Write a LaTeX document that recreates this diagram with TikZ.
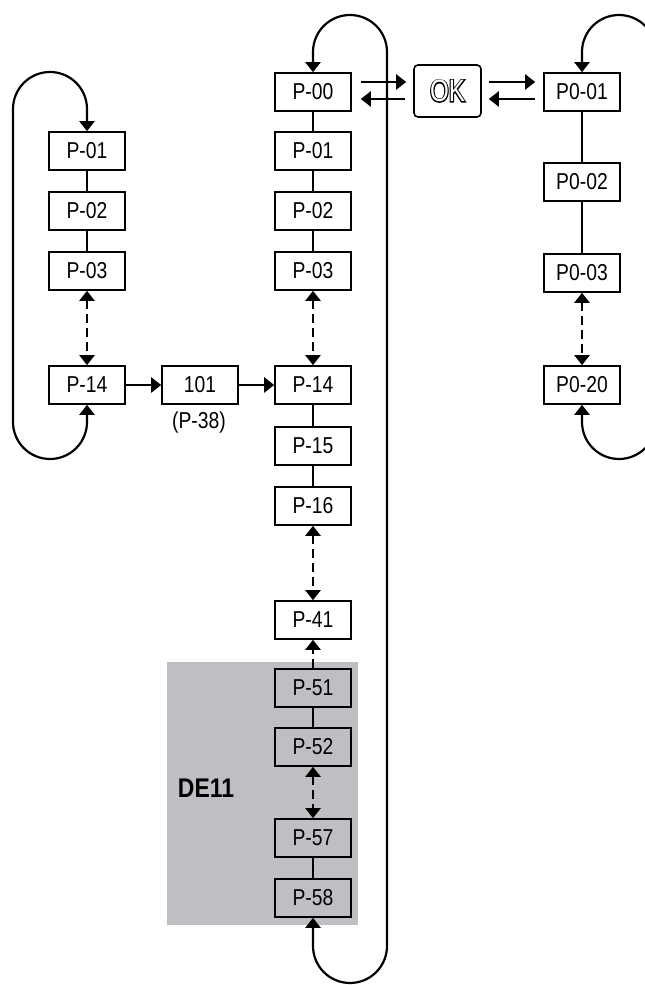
\documentclass[tikz,border=0pt]{standalone}
\usepackage{fontspec}
\setmainfont{Liberation Sans}[FakeStretch=0.84]
\newfontfamily\delabel{Liberation Sans}[FakeStretch=0.85]
\newfontfamily\okfont{Liberation Sans}[FakeStretch=0.78]
\newfontfamily\okfontb{Liberation Sans}[FakeStretch=0.78,FakeBold=7]
\usetikzlibrary{arrows.meta}
\definecolor{panelgray}{RGB}{190,191,195}
\begin{document}
\begin{tikzpicture}[x=1pt,y=1pt,
  pbox/.style={draw=black,line width=1.6pt,minimum width=76pt,minimum height=38pt,inner sep=0pt,font=\fontsize{23}{23}\selectfont},
  conn/.style={line width=2.2pt},
  arr/.style={line width=2.2pt,-{Triangle[length=10pt,width=15pt]}},
  darr/.style={line width=2.2pt,dash pattern=on 9pt off 5pt,{Triangle[length=10pt,width=15pt]}-{Triangle[length=10pt,width=15pt]}},
  dsarr/.style={line width=2.2pt,dash pattern=on 9pt off 5pt,-{Triangle[length=10pt,width=15pt]}},
  lbl/.style={inner sep=0pt,font=\fontsize{23}{23}\selectfont},
]
\clip (0,0) rectangle (645,985);
% grey DE11 panel
\fill[panelgray] (167,60) rectangle (358,323);
\node[inner sep=0pt,font=\delabel\bfseries\fontsize{27}{27}\selectfont] (de) at (206,197) {DE11};

% left column
\node[pbox] (L01) at (87,834) {P-01};
\node[pbox] (L02) at (87,774) {P-02};
\node[pbox] (L03) at (87,714) {P-03};
\node[pbox] (L14) at (87,600) {P-14};
\node[pbox] (B101) at (200,600) {101};
\node[lbl] (P38) at (199,562) {(P-38)};

% middle column
\node[pbox] (M00) at (313,893) {P-00};
\node[pbox] (M01) at (313,834) {P-01};
\node[pbox] (M02) at (313,774) {P-02};
\node[pbox] (M03) at (313,714) {P-03};
\node[pbox] (M14) at (313,600) {P-14};
\node[pbox] (M15) at (313,539) {P-15};
\node[pbox] (M16) at (313,479) {P-16};
\node[pbox] (M41) at (313,365) {P-41};
\node[pbox] (M51) at (313,297) {P-51};
\node[pbox] (M52) at (313,238) {P-52};
\node[pbox] (M57) at (313,147) {P-57};
\node[pbox] (M58) at (313,87) {P-58};

% right column
\node[pbox] (R01) at (582,893) {P0-01};
\node[pbox] (R02) at (582,803) {P0-02};
\node[pbox] (R03) at (582,712) {P0-03};
\node[pbox] (R20) at (582,600) {P0-20};

% OK key
\node[draw=black,line width=1.6pt,rounded corners=4pt,minimum width=67pt,minimum height=52pt,inner sep=0pt] (OK) at (447.5,894) {};
\node[inner sep=0pt,text=black,font=\okfontb\fontsize{31}{31}\selectfont] (okb) at (OK.center) {OK};
\node[inner sep=0pt,text=white,font=\okfont\fontsize{31}{31}\selectfont] (okw) at (OK.center) {OK};

% solid links
\draw[conn] (L01) -- (L02);
\draw[conn] (L02) -- (L03);
\draw[conn] (M00) -- (M01);
\draw[conn] (M01) -- (M02);
\draw[conn] (M02) -- (M03);
\draw[conn] (M14) -- (M15);
\draw[conn] (M15) -- (M16);
\draw[conn] (M51) -- (M52);
\draw[conn] (M57) -- (M58);
\draw[conn] (R01) -- (R02);
\draw[conn] (R02) -- (R03);

% dashed links
\draw[darr] (L03) -- (L14);
\draw[darr] (M03) -- (M14);
\draw[darr] (M16) -- (M41);
\draw[darr] (M52) -- (M57);
\draw[darr] (R03) -- (R20);
\draw[dsarr] (M51) -- (M41);

% horizontal arrows
\draw[arr] (L14) -- (B101);
\draw[arr] (B101) -- (M14);
\draw[arr] ([xshift=9pt,yshift=10pt]M00.east) -- ([xshift=-7pt,yshift=9pt]OK.west);
\draw[arr] ([xshift=-8pt,yshift=-8pt]OK.west) -- ([xshift=9pt,yshift=-7pt]M00.east);
\draw[arr] ([xshift=7pt,yshift=9pt]OK.east) -- ([xshift=-8pt,yshift=10pt]R01.west);
\draw[arr] ([xshift=-8pt,yshift=-7pt]R01.west) -- ([xshift=7pt,yshift=-8pt]OK.east);

% loops
\draw[darr,dash pattern=] (L14.south) -- (87,563) arc[start angle=0,end angle=-180,radius=37pt]
  -- (13,876) arc[start angle=180,end angle=0,radius=37pt] -- (L01.north);
\draw[darr,dash pattern=] (M58.south) -- (313,39) arc[start angle=180,end angle=360,radius=37pt]
  -- (387,933) arc[start angle=0,end angle=180,radius=37pt] -- (M00.north);
\draw[darr,dash pattern=] (R20.south) -- (582,563) arc[start angle=180,end angle=360,radius=37pt]
  -- (656,933) arc[start angle=0,end angle=180,radius=37pt] -- (R01.north);
\end{tikzpicture}
\end{document}
